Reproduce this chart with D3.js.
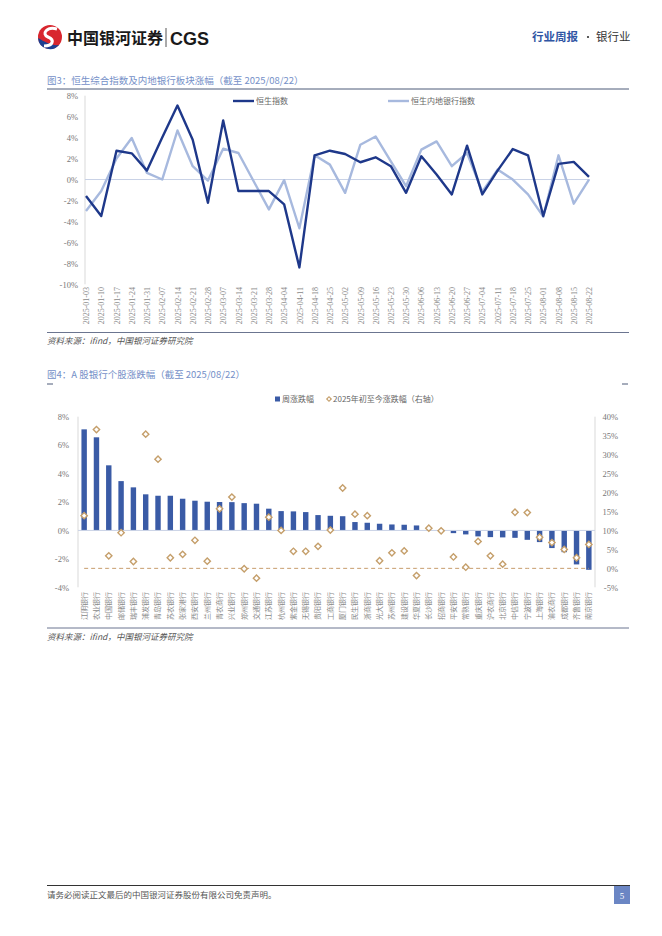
<!DOCTYPE html>
<html><head><meta charset="utf-8">
<script src="https://cdn.jsdelivr.net/npm/d3@7/dist/d3.min.js"></script>
<style>body{margin:0;background:#fff}svg{display:block}</style>
</head><body>
<svg id="c" width="662" height="936"></svg>
<script>
// ---------- Chart 1 data ----------
const dates = ["2025-01-03","2025-01-10","2025-01-17","2025-01-24","2025-01-31","2025-02-07","2025-02-14","2025-02-21","2025-02-28","2025-03-07","2025-03-14","2025-03-21","2025-03-28","2025-04-04","2025-04-11","2025-04-18","2025-04-25","2025-05-02","2025-05-09","2025-05-16","2025-05-23","2025-05-30","2025-06-06","2025-06-13","2025-06-20","2025-06-27","2025-07-04","2025-07-11","2025-07-18","2025-07-25","2025-08-01","2025-08-08","2025-08-15","2025-08-22"];
const hsci = [-1.58,-3.48,2.75,2.5,0.85,4.0,7.06,3.8,-2.22,5.63,-1.1,-1.1,-1.1,-2.37,-8.39,2.31,2.75,2.44,1.65,2.12,1.27,-1.27,2.22,0.47,-1.42,3.23,-1.42,0.85,2.91,2.31,-3.48,1.49,1.68,0.25];
const hsBank = [-3.0,-1.1,2.0,3.96,0.63,0.0,4.68,1.27,-0.1,2.94,2.53,-0.16,-2.85,-0.06,-4.65,2.31,1.42,-1.27,3.32,4.11,1.74,-0.63,2.85,3.64,1.27,2.53,-1.17,0.95,0.0,-1.42,-3.54,2.31,-2.31,0.0];
const yTicks1 = [-10,-8,-6,-4,-2,0,2,4,6,8];
const seriesNames1 = ["恒生指数","恒生内地银行指数"];

// ---------- Chart 2 data ----------
const banks = ["江阴银行","农业银行","中国银行","邮储银行","瑞丰银行","浦发银行","青岛银行","苏农银行","张家港行","西安银行","兰州银行","青农商行","兴业银行","郑州银行","交通银行","江苏银行","杭州银行","紫金银行","无锡银行","贵阳银行","工商银行","厦门银行","民生银行","浙商银行","光大银行","苏州银行","建设银行","华夏银行","长沙银行","招商银行","平安银行","常熟银行","重庆银行","沪农商行","北京银行","中信银行","宁波银行","上海银行","渝农商行","成都银行","齐鲁银行","南京银行"];
const weekChg = [7.11,6.55,4.58,3.47,3.03,2.54,2.44,2.44,2.23,2.09,2.02,2.0,1.99,1.92,1.88,1.53,1.36,1.34,1.29,1.08,1.03,1.0,0.59,0.54,0.47,0.42,0.40,0.35,0.03,-0.03,-0.19,-0.28,-0.42,-0.47,-0.49,-0.52,-0.66,-0.82,-1.24,-1.53,-2.39,-2.77];
const ytdChg = [13.9,36.6,3.3,9.4,1.8,35.4,28.8,2.8,3.7,7.4,1.9,15.7,18.8,-0.1,-2.6,13.5,10.0,4.5,4.5,5.8,10.1,21.2,14.3,13.9,2.0,4.1,4.6,-1.9,10.6,9.9,3.0,0.3,7.1,3.3,1.1,14.8,14.7,8.2,6.8,5.0,2.8,6.3];
const yTicksL = [-4,-2,0,2,4,6,8];
const yTicksR = [-5,0,5,10,15,20,25,30,35,40];
const seriesNames2 = ["周涨跌幅","2025年初至今涨跌幅（右轴）"];

const svg = d3.select("#c");
const serif = "'Liberation Serif','Noto Sans CJK SC',serif";
const cjk = "'Noto Sans CJK SC','Liberation Serif',sans-serif";

// ---------- Header ----------
const logo = svg.append("g").attr("transform","translate(50,37)");
logo.append("circle").attr("r",12).attr("fill","#d8262e");
logo.append("path").attr("d","M-12,1 A12,12 0 0 0 9,8 C2,9 -5,5 -12,1Z").attr("fill","#1d3f91");
logo.append("path").attr("d","M7,-8 C-3,-11 -9,-3 -2,0 C5,3 3,9 -6,9").attr("stroke","#fff").attr("stroke-width",3).attr("fill","none");
svg.append("text").attr("x",67).attr("y",44).attr("font-family",cjk).attr("font-weight","bold").attr("font-size",16).attr("fill","#1a1a1a").text("中国银河证券");
svg.append("line").attr("x1",166).attr("x2",166).attr("y1",28).attr("y2",47).attr("stroke","#555").attr("stroke-width",1);
svg.append("text").attr("x",170).attr("y",44.5).attr("font-family","'Liberation Sans',Arial,sans-serif").attr("font-weight","bold").attr("font-size",18).attr("fill","#1a1a1a").text("CGS");
svg.append("text").attr("x",532).attr("y",41).attr("font-family",cjk).attr("font-size",11.5).attr("font-weight","bold").attr("fill","#2f55a4").text("行业周报");
svg.append("circle").attr("cx",588).attr("cy",37).attr("r",1.1).attr("fill","#333");
svg.append("text").attr("x",596).attr("y",41).attr("font-family",cjk).attr("font-size",11.5).attr("fill","#333").text("银行业");

// ---------- Chart 1 ----------
svg.append("text").attr("x",47).attr("y",84).attr("font-family",cjk).attr("font-size",9.5).attr("fill","#7590c8").text("图3：恒生综合指数及内地银行板块涨幅（截至 2025/08/22）");
svg.append("line").attr("x1",47).attr("x2",629).attr("y1",89).attr("y2",89).attr("stroke","#4d5a78").attr("stroke-width",1);

const x1 = d3.scalePoint().domain(dates).range([86,589]);
const y1 = d3.scaleLinear().domain([-10,8]).range([284.3,95.7]);

svg.append("line").attr("x1",85).attr("x2",85).attr("y1",y1(8)).attr("y2",y1(-10)).attr("stroke","#d9d9d9");
svg.append("line").attr("x1",85).attr("x2",590).attr("y1",y1(0)).attr("y2",y1(0)).attr("stroke","#c9d2e6");

const ay1 = svg.append("g").attr("transform","translate(78,0)")
  .call(d3.axisLeft(y1).tickValues(yTicks1).tickSize(0).tickPadding(0).tickFormat(d=>d+"%"));
ay1.select(".domain").remove();
ay1.selectAll("text").attr("font-family",serif).attr("font-size",8.5).attr("fill","#777");

const ax1 = svg.append("g").attr("transform","translate(0,287)")
  .call(d3.axisBottom(x1).tickSize(0).tickPadding(0));
ax1.select(".domain").remove();
ax1.selectAll("text").attr("font-family",serif).attr("font-size",8).attr("fill","#888")
  .attr("text-anchor","end").attr("transform","rotate(-90)").attr("x",0).attr("y",0).attr("dy","0.33em");

const line1 = d3.line().x((d,i)=>x1(dates[i])).y(d=>y1(d));
svg.append("path").datum(hsBank).attr("d",line1).attr("fill","none").attr("stroke","#a7b9de").attr("stroke-width",2.4).attr("stroke-linejoin","round");
svg.append("path").datum(hsci).attr("d",line1).attr("fill","none").attr("stroke","#1e388a").attr("stroke-width",2.4).attr("stroke-linejoin","round");

const leg1 = [{x:233,c:"#1e388a",t:seriesNames1[0]},{x:388,c:"#a7b9de",t:seriesNames1[1]}];
leg1.forEach(l=>{
  svg.append("line").attr("x1",l.x).attr("x2",l.x+21).attr("y1",101).attr("y2",101).attr("stroke",l.c).attr("stroke-width",2.4);
  svg.append("text").attr("x",l.x+23).attr("y",104).attr("font-family",cjk).attr("font-size",8).attr("fill","#666").text(l.t);
});

svg.append("line").attr("x1",47).attr("x2",629).attr("y1",332.5).attr("y2",332.5).attr("stroke","#6b7590").attr("stroke-width",1);
svg.append("text").attr("x",47).attr("y",344).attr("font-family",cjk).attr("font-style","italic").attr("font-size",8.5).attr("fill","#555").text("资料来源：ifind，中国银河证券研究院");

// ---------- Chart 2 ----------
svg.append("text").attr("x",47).attr("y",378).attr("font-family",cjk).attr("font-size",9.5).attr("fill","#7590c8").text("图4：A 股银行个股涨跌幅（截至 2025/08/22）");
svg.append("line").attr("x1",47).attr("x2",53).attr("y1",384).attr("y2",384).attr("stroke","#4d5a78");
svg.append("line").attr("x1",622).attr("x2",628).attr("y1",384).attr("y2",384).attr("stroke","#4d5a78");

const x2 = d3.scaleBand().domain(banks).range([78,595]).paddingInner(0.56).paddingOuter(0.28);
const yL = d3.scaleLinear().domain([-4,8]).range([587.3,416.7]);
const yR = d3.scaleLinear().domain([-5,40]).range([587.3,416.7]);

svg.append("line").attr("x1",78).attr("x2",78).attr("y1",yL(8)).attr("y2",yL(-4)).attr("stroke","#d9d9d9");
svg.append("line").attr("x1",595).attr("x2",595).attr("y1",yL(8)).attr("y2",yL(-4)).attr("stroke","#d9d9d9");

const ayL = svg.append("g").attr("transform","translate(69,0)")
  .call(d3.axisLeft(yL).tickValues(yTicksL).tickSize(0).tickPadding(0).tickFormat(d=>d+"%"));
ayL.select(".domain").remove();
ayL.selectAll("text").attr("font-family",serif).attr("font-size",8.5).attr("fill","#777");
const ayR = svg.append("g").attr("transform","translate(618,0)")
  .call(d3.axisLeft(yR).tickValues(yTicksR).tickSize(0).tickPadding(0).tickFormat(d=>d+"%"));
ayR.select(".domain").remove();
ayR.selectAll("text").attr("font-family",serif).attr("font-size",8.5).attr("fill","#777");

svg.append("g").selectAll("rect").data(weekChg).join("rect")
  .attr("x",(d,i)=>x2(banks[i])).attr("width",x2.bandwidth())
  .attr("y",d=>yL(Math.max(0,d))).attr("height",d=>Math.abs(yL(d)-yL(0)))
  .attr("fill","#3a5ba6");

svg.append("line").attr("x1",78).attr("x2",595).attr("y1",yL(0)).attr("y2",yL(0)).attr("stroke","#c9d2e6");

// dashed reference at right-axis 0%
const zeroLine = d3.line().x(d=>x2(d)+x2.bandwidth()/2).y(()=>yR(0));
svg.append("path").datum(banks).attr("d",zeroLine).attr("fill","none").attr("stroke","#c79c6c").attr("stroke-width",1).attr("stroke-dasharray","4,3");

const diamond = d3.symbol().type(d3.symbolSquare).size(20);
svg.append("g").selectAll("path").data(ytdChg).join("path")
  .attr("d",diamond)
  .attr("transform",(d,i)=>`translate(${x2(banks[i])+x2.bandwidth()/2},${yR(d)}) rotate(45)`)
  .attr("fill","#fff").attr("stroke","#c59f6b").attr("stroke-width",1.4);

const ax2 = svg.append("g").attr("transform","translate(0,592)")
  .call(d3.axisBottom(x2).tickSize(0).tickPadding(0));
ax2.select(".domain").remove();
ax2.selectAll("text").attr("font-family",cjk).attr("font-size",7).attr("fill","#888")
  .attr("text-anchor","end").attr("transform","rotate(-90)").attr("x",0).attr("y",0).attr("dy","0.35em");

// legend 2
svg.append("rect").attr("x",275).attr("y",396.5).attr("width",5).attr("height",5).attr("fill","#3a5ba6");
svg.append("text").attr("x",282).attr("y",402).attr("font-family",cjk).attr("font-size",8).attr("fill","#666").text(seriesNames2[0]);
svg.append("path").attr("d",d3.symbol().type(d3.symbolSquare).size(10)).attr("transform","translate(329,399) rotate(45)")
  .attr("fill","#fff").attr("stroke","#c59f6b").attr("stroke-width",1.2);
svg.append("text").attr("x",333).attr("y",402).attr("font-family",cjk).attr("font-size",8).attr("fill","#666").text(seriesNames2[1]);

svg.append("line").attr("x1",47).attr("x2",629).attr("y1",628).attr("y2",628).attr("stroke","#6b7590").attr("stroke-width",1);
svg.append("text").attr("x",47).attr("y",640).attr("font-family",cjk).attr("font-style","italic").attr("font-size",8.5).attr("fill","#555").text("资料来源：ifind，中国银河证券研究院");

// ---------- Footer ----------
svg.append("line").attr("x1",47).attr("x2",630).attr("y1",885.5).attr("y2",885.5).attr("stroke","#333").attr("stroke-width",1);
svg.append("text").attr("x",47).attr("y",898).attr("font-family",cjk).attr("font-size",8.5).attr("fill","#555").text("请务必阅读正文最后的中国银河证券股份有限公司免责声明。");
svg.append("rect").attr("x",614).attr("y",886).attr("width",16).attr("height",18).attr("fill","#6b86c4");
svg.append("text").attr("x",622).attr("y",898.5).attr("text-anchor","middle").attr("font-family",serif).attr("font-size",9).attr("fill","#fff").text("5");
</script>
</body></html>
